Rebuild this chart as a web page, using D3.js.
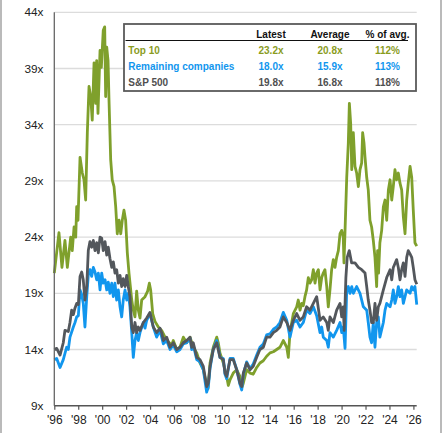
<!DOCTYPE html>
<html>
<head>
<meta charset="utf-8">
<script src="https://cdn.jsdelivr.net/npm/d3@7"></script>
<style>
  html, body { margin: 0; padding: 0; background: #fff; }
  svg { display: block; font-family: "Liberation Sans", Arial, sans-serif; }
</style>
</head>
<body>
<svg id="chart" width="448" height="433" viewBox="0 0 448 433"></svg>
<script>
// Forward P/E: [decimal year, multiple]
const top10 = [
  [1996.0, 20.8], [1996.39, 24.4], [1996.64, 21.3], [1996.89, 23.7], [1997.09, 21.3], [1997.37, 24.0],
  [1997.5, 22.8], [1997.65, 24.9], [1997.79, 24.0], [1997.87, 26.7], [1997.98, 25.5], [1998.15, 31.1],
  [1998.34, 29.7], [1998.48, 29.1], [1998.62, 27.3], [1998.76, 33.3], [1998.9, 37.4], [1999.04, 36.5],
  [1999.17, 34.4], [1999.32, 39.5], [1999.46, 35.9], [1999.54, 39.7], [1999.65, 35.0], [1999.82, 40.6],
  [1999.93, 39.1], [2000.09, 42.4], [2000.21, 42.7], [2000.29, 36.5], [2000.38, 40.9], [2000.49, 39.7],
  [2000.57, 36.2], [2000.71, 30.9], [2000.84, 29.1], [2000.99, 28.5], [2001.13, 26.7], [2001.26, 24.3],
  [2001.41, 25.5], [2001.55, 24.3], [2001.68, 25.5], [2001.82, 26.4], [2001.96, 25.5], [2002.1, 22.6],
  [2002.24, 20.8], [2002.47, 18.4], [2002.6, 17.5], [2002.74, 16.9], [2002.88, 19.2], [2003.02, 17.5],
  [2003.16, 16.8], [2003.3, 18.4], [2003.58, 18.7], [2003.8, 19.2], [2003.94, 19.9], [2004.05, 19.3],
  [2004.22, 17.2], [2004.41, 16.5], [2004.69, 16.0], [2004.97, 15.7], [2005.25, 15.1], [2005.52, 14.7],
  [2005.81, 14.4], [2005.94, 14.8], [2006.23, 14.0], [2006.5, 14.2], [2006.78, 15.1], [2007.06, 14.6],
  [2007.34, 15.1], [2007.61, 14.2], [2007.9, 13.7], [2008.17, 12.8], [2008.45, 12.2], [2008.73, 10.8],
  [2008.84, 10.5], [2009.01, 12.8], [2009.28, 14.2], [2009.57, 15.1], [2009.7, 14.6], [2009.84, 13.7],
  [2010.12, 12.8], [2010.4, 11.6], [2010.54, 10.8], [2010.68, 11.3], [2010.95, 11.9], [2011.24, 12.2],
  [2011.51, 11.6], [2011.66, 10.6], [2011.79, 11.0], [2012.07, 12.2], [2012.35, 11.9], [2012.62, 11.8],
  [2012.91, 12.4], [2013.18, 12.8], [2013.46, 13.0], [2013.74, 13.4], [2014.02, 13.7], [2014.3, 13.8],
  [2014.58, 14.0], [2014.85, 14.2], [2015.13, 14.8], [2015.42, 14.2], [2015.55, 13.3], [2015.69, 15.5],
  [2015.97, 17.2], [2016.25, 17.8], [2016.38, 18.4], [2016.53, 17.5], [2016.67, 18.1], [2016.8, 17.9],
  [2016.94, 18.7], [2017.08, 19.3], [2017.22, 20.4], [2017.36, 19.9], [2017.5, 20.2], [2017.64, 21.1],
  [2017.78, 19.9], [2017.92, 20.8], [2018.06, 21.1], [2018.2, 19.3], [2018.34, 20.4], [2018.47, 20.8],
  [2018.61, 21.1], [2018.76, 19.6], [2018.89, 17.8], [2019.03, 19.3], [2019.17, 21.1], [2019.31, 22.0],
  [2019.45, 21.3], [2019.59, 22.2], [2019.73, 22.8], [2019.87, 24.3], [2020.01, 24.6], [2020.14, 24.0],
  [2020.2, 21.7], [2020.29, 24.6], [2020.43, 29.3], [2020.56, 32.3], [2020.65, 35.9], [2020.76, 34.1],
  [2020.85, 30.0], [2020.98, 33.3], [2021.12, 30.3], [2021.26, 29.7], [2021.4, 28.5], [2021.54, 30.0],
  [2021.68, 30.6], [2021.76, 33.3], [2021.87, 32.4], [2021.96, 31.1], [2022.1, 29.3], [2022.23, 28.2],
  [2022.37, 25.5], [2022.51, 24.9], [2022.65, 23.7], [2022.79, 22.2], [2022.93, 19.6], [2023.01, 22.8],
  [2023.09, 20.8], [2023.2, 23.5], [2023.35, 24.6], [2023.49, 26.7], [2023.63, 27.3], [2023.77, 25.5],
  [2023.91, 28.2], [2024.05, 29.1], [2024.19, 27.3], [2024.32, 28.5], [2024.46, 30.0], [2024.6, 29.1],
  [2024.74, 29.7], [2024.88, 28.8], [2025.02, 28.2], [2025.16, 25.8], [2025.3, 24.3], [2025.44, 27.3],
  [2025.57, 28.8], [2025.72, 30.3], [2025.86, 29.3], [2025.99, 26.4], [2026.13, 23.5], [2026.28, 23.2]
];

const remaining = [
  [1996.0, 13.1], [1996.2, 13.2], [1996.48, 12.4], [1996.75, 13.1], [1997.03, 14.2], [1997.17, 14.0],
  [1997.31, 15.1], [1997.59, 16.0], [1997.73, 16.4], [1997.87, 16.9], [1998.01, 17.0], [1998.15, 19.3],
  [1998.29, 18.9], [1998.42, 18.1], [1998.56, 16.0], [1998.71, 18.7], [1998.84, 20.6], [1998.98, 21.1],
  [1999.12, 20.5], [1999.26, 21.3], [1999.4, 20.9], [1999.54, 20.2], [1999.68, 20.8], [1999.82, 19.3],
  [1999.96, 20.8], [2000.09, 19.9], [2000.24, 20.2], [2000.38, 19.3], [2000.51, 20.0], [2000.65, 19.0],
  [2000.8, 19.9], [2000.93, 18.7], [2001.07, 19.9], [2001.21, 18.4], [2001.35, 19.3], [2001.49, 17.8],
  [2001.63, 16.9], [2001.76, 18.4], [2001.91, 19.3], [2002.05, 18.4], [2002.18, 19.0], [2002.32, 17.8],
  [2002.47, 15.5], [2002.6, 13.3], [2002.74, 14.8], [2002.88, 15.5], [2003.02, 14.8], [2003.16, 15.5],
  [2003.44, 16.4], [2003.58, 15.9], [2003.72, 16.6], [2003.99, 17.2], [2004.27, 16.0], [2004.55, 15.1],
  [2004.83, 15.7], [2005.11, 14.5], [2005.39, 14.8], [2005.67, 14.0], [2005.94, 14.4], [2006.23, 13.8],
  [2006.5, 14.0], [2006.78, 14.5], [2007.06, 14.6], [2007.34, 15.0], [2007.48, 14.0], [2007.61, 14.4],
  [2007.9, 13.1], [2008.17, 12.9], [2008.45, 12.2], [2008.73, 10.2], [2008.87, 10.7], [2009.01, 12.3],
  [2009.28, 14.0], [2009.57, 14.8], [2009.84, 13.3], [2010.12, 13.2], [2010.26, 11.8], [2010.4, 11.4],
  [2010.68, 13.2], [2010.95, 13.2], [2011.24, 12.2], [2011.51, 10.9], [2011.66, 10.4], [2011.79, 11.8],
  [2012.07, 12.9], [2012.35, 12.3], [2012.62, 12.7], [2012.91, 13.5], [2013.18, 14.2], [2013.46, 14.5],
  [2013.74, 15.3], [2014.02, 15.4], [2014.3, 15.8], [2014.58, 16.0], [2014.85, 16.4], [2015.13, 17.3],
  [2015.42, 16.6], [2015.69, 15.1], [2015.97, 16.4], [2016.25, 16.6], [2016.53, 16.0], [2016.8, 16.4],
  [2017.08, 17.5], [2017.36, 17.2], [2017.64, 17.8], [2017.92, 17.0], [2018.2, 15.5], [2018.34, 16.0],
  [2018.47, 15.1], [2018.76, 14.8], [2018.89, 14.2], [2019.03, 15.5], [2019.31, 15.1], [2019.59, 15.7],
  [2019.87, 16.4], [2020.01, 15.5], [2020.14, 16.0], [2020.29, 14.1], [2020.43, 19.3], [2020.56, 19.6],
  [2020.7, 19.0], [2020.85, 19.6], [2020.98, 19.0], [2021.26, 19.6], [2021.54, 19.0], [2021.82, 17.8],
  [2022.1, 17.5], [2022.23, 16.4], [2022.37, 15.1], [2022.51, 14.6], [2022.65, 16.4], [2022.79, 14.2],
  [2022.93, 16.4], [2023.07, 16.9], [2023.2, 15.1], [2023.49, 16.4], [2023.63, 17.5], [2023.77, 18.1],
  [2024.05, 17.8], [2024.19, 18.4], [2024.32, 19.3], [2024.46, 18.1], [2024.6, 18.7], [2024.74, 19.6],
  [2024.88, 18.7], [2025.02, 19.3], [2025.16, 18.1], [2025.3, 18.7], [2025.44, 19.3], [2025.72, 19.0],
  [2025.86, 19.6], [2025.99, 19.3], [2026.13, 19.6], [2026.28, 18.0]
];

const sp500 = [
  [1996.0, 14.0], [1996.2, 14.1], [1996.48, 13.5], [1996.75, 14.6], [1996.89, 15.7], [1997.17, 15.6],
  [1997.31, 16.4], [1997.45, 17.5], [1997.59, 17.1], [1997.73, 17.7], [1997.87, 18.1], [1998.01, 18.0],
  [1998.15, 20.5], [1998.29, 20.9], [1998.42, 20.2], [1998.56, 18.4], [1998.71, 19.6], [1998.84, 22.8],
  [1998.98, 23.6], [1999.12, 23.1], [1999.26, 23.7], [1999.4, 22.8], [1999.54, 23.5], [1999.68, 22.6],
  [1999.82, 24.0], [1999.96, 23.9], [2000.09, 22.8], [2000.24, 23.6], [2000.38, 22.4], [2000.51, 23.1],
  [2000.65, 22.1], [2000.8, 21.3], [2000.93, 21.8], [2001.07, 20.8], [2001.21, 21.1], [2001.35, 19.9],
  [2001.49, 20.6], [2001.63, 19.6], [2001.76, 20.3], [2001.91, 19.6], [2002.05, 20.6], [2002.18, 19.6],
  [2002.32, 18.7], [2002.47, 16.0], [2002.6, 15.5], [2002.74, 16.4], [2002.88, 15.5], [2003.02, 16.0],
  [2003.16, 15.7], [2003.44, 16.4], [2003.72, 16.8], [2003.99, 17.3], [2004.14, 16.6], [2004.27, 16.0],
  [2004.55, 15.5], [2004.83, 15.9], [2004.97, 15.5], [2005.11, 14.8], [2005.39, 15.1], [2005.67, 14.2],
  [2005.94, 14.6], [2006.23, 14.0], [2006.5, 14.2], [2006.78, 14.6], [2007.06, 14.8], [2007.34, 15.1],
  [2007.48, 14.2], [2007.61, 14.6], [2007.9, 13.3], [2008.17, 13.1], [2008.45, 12.5], [2008.73, 10.7],
  [2008.87, 11.0], [2009.01, 12.5], [2009.28, 14.0], [2009.57, 14.6], [2009.84, 13.3], [2010.12, 13.1],
  [2010.26, 11.9], [2010.4, 11.6], [2010.68, 13.1], [2010.95, 13.1], [2011.24, 12.2], [2011.51, 11.0],
  [2011.66, 10.7], [2011.79, 11.9], [2012.07, 12.8], [2012.35, 12.2], [2012.62, 12.5], [2012.91, 13.3],
  [2013.18, 14.0], [2013.46, 14.2], [2013.74, 15.1], [2014.02, 15.1], [2014.3, 15.5], [2014.58, 15.7],
  [2014.85, 16.0], [2015.13, 16.9], [2015.42, 16.4], [2015.69, 15.7], [2015.97, 16.6], [2016.25, 17.2],
  [2016.53, 16.6], [2016.8, 16.9], [2017.08, 17.8], [2017.36, 17.5], [2017.64, 18.1], [2017.92, 18.7],
  [2018.2, 16.6], [2018.47, 16.9], [2018.76, 16.4], [2018.89, 15.7], [2019.03, 16.9], [2019.31, 16.4],
  [2019.59, 17.5], [2019.87, 18.1], [2020.01, 16.9], [2020.14, 17.8], [2020.22, 15.7], [2020.36, 20.4],
  [2020.47, 22.2], [2020.64, 22.8], [2020.84, 21.7], [2021.12, 21.7], [2021.4, 21.3], [2021.68, 21.1],
  [2021.96, 20.8], [2022.1, 19.6], [2022.23, 18.4], [2022.37, 17.5], [2022.51, 16.4], [2022.65, 16.4],
  [2022.79, 18.1], [2022.93, 16.6], [2023.07, 17.8], [2023.2, 18.1], [2023.49, 19.3], [2023.77, 20.4],
  [2024.05, 21.1], [2024.19, 20.2], [2024.32, 21.3], [2024.6, 22.0], [2024.74, 21.3], [2024.88, 20.2],
  [2025.02, 21.1], [2025.16, 21.7], [2025.3, 20.5], [2025.44, 22.2], [2025.57, 22.8], [2025.72, 22.5],
  [2025.86, 22.2], [2025.99, 21.3], [2026.13, 20.2], [2026.28, 19.8]
];

// Table in the top right
const tableHeaders = ["Latest", "Average", "% of avg."];
const tableNames = ["Top 10", "Remaining companies", "S&P 500"];
const latest = ["23.2x", "18.0x", "19.8x"];
const average = ["20.8x", "15.9x", "16.8x"];
const pctOfAvg = ["112%", "113%", "118%"];

const yTicks = [9, 14, 19, 24, 29, 34, 39, 44];
const xTicks = d3.range(1996, 2027, 2);

const colors = { top10: "#7fa02c", remaining: "#1196ee", sp500: "#53575c" };
const textColors = ["#8a9c1e", "#1196ee", "#4f4f4f"];

const svg = d3.select("#chart");
const margin = { left: 54.3, top: 12.3, bottom: 405.7 };

const x = d3.scaleLinear().domain([1996, 2026]).range([margin.left, 413.4]);
const y = d3.scaleLinear().domain([9, 44]).range([margin.bottom, margin.top]);
const plotRight = 416.7;

// outer frame edges
svg.append("line").attr("x1", 1).attr("x2", 1).attr("y1", 0).attr("y2", 433)
  .attr("stroke", "#8c8c8c").attr("stroke-width", 1.2);
svg.append("line").attr("x1", 441).attr("x2", 441).attr("y1", 0).attr("y2", 433)
  .attr("stroke", "#8c8c8c").attr("stroke-width", 1.2);

// gridlines
svg.append("g")
  .selectAll("line")
  .data(yTicks.filter(d => d > 9))
  .join("line")
  .attr("x1", margin.left).attr("x2", plotRight)
  .attr("y1", d => y(d)).attr("y2", d => y(d))
  .attr("stroke", "#dcdcdc").attr("stroke-width", 1.3);

// y labels
svg.append("g")
  .selectAll("text")
  .data(yTicks)
  .join("text")
  .attr("x", 43.5)
  .attr("y", d => y(d))
  .attr("dy", "0.35em")
  .attr("text-anchor", "end")
  .attr("font-size", 11.8)
  .attr("fill", "#222")
  .text(d => d + "x");

// lines
const line = d3.line().x(d => x(d[0])).y(d => y(d[1]));
[[top10, colors.top10], [remaining, colors.remaining], [sp500, colors.sp500]].forEach(([data, c]) => {
  svg.append("path")
    .datum(data)
    .attr("d", line)
    .attr("fill", "none")
    .attr("stroke", c)
    .attr("stroke-width", 2.8)
    .attr("stroke-linejoin", "round");
});

// axes lines
svg.append("line").attr("x1", margin.left).attr("x2", margin.left)
  .attr("y1", margin.top).attr("y2", margin.bottom)
  .attr("stroke", "#666").attr("stroke-width", 1.3);

const xAxis = d3.axisBottom(x)
  .tickValues(xTicks)
  .tickSize(4)
  .tickSizeOuter(0)
  .tickFormat(d => "'" + String(d).slice(2));

const gx = svg.append("g").attr("transform", `translate(0,${margin.bottom})`).call(xAxis);
gx.select(".domain").attr("d", `M${margin.left},0H${plotRight}`).attr("stroke", "#555").attr("stroke-width", 1.5);
gx.selectAll(".tick line").attr("stroke", "#555").attr("stroke-width", 1.2);
gx.selectAll(".tick text")
  .attr("y", 10)
  .attr("font-size", 12)
  .attr("font-family", "Liberation Sans, Arial, sans-serif")
  .attr("fill", "#222");

// table box
const box = { x: 124, y: 24, w: 292, h: 67 };
const colX = [271, 330, 387.5];
svg.append("rect")
  .attr("x", box.x).attr("y", box.y).attr("width", box.w).attr("height", box.h)
  .attr("fill", "#fff").attr("stroke", "#5a5a5a").attr("stroke-width", 1.8);

svg.append("g")
  .selectAll("text")
  .data(tableHeaders)
  .join("text")
  .attr("x", (d, i) => colX[i])
  .attr("y", 38)
  .attr("text-anchor", "middle")
  .attr("font-size", 10)
  .attr("font-weight", "bold")
  .attr("fill", "#111")
  .text(d => d);

svg.append("line").attr("x1", 125.5).attr("x2", 408).attr("y1", 40.5).attr("y2", 40.5)
  .attr("stroke", "#111").attr("stroke-width", 1.2);

const rowY = [53.5, 69.5, 85.5];
const rows = svg.append("g")
  .selectAll("g")
  .data(tableNames)
  .join("g")
  .attr("font-size", 10)
  .attr("font-weight", "bold")
  .attr("fill", (d, i) => textColors[i]);

rows.append("text").attr("x", 128.3).attr("y", (d, i) => rowY[i]).text(d => d);
rows.append("text").attr("x", colX[0]).attr("y", (d, i) => rowY[i]).attr("text-anchor", "middle").text((d, i) => latest[i]);
rows.append("text").attr("x", colX[1]).attr("y", (d, i) => rowY[i]).attr("text-anchor", "middle").text((d, i) => average[i]);
rows.append("text").attr("x", colX[2]).attr("y", (d, i) => rowY[i]).attr("text-anchor", "middle").text((d, i) => pctOfAvg[i]);
</script>
</body>
</html>
